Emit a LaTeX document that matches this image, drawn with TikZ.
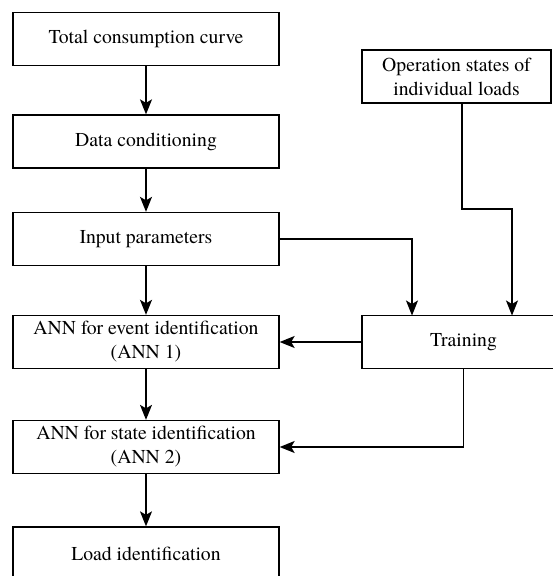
\documentclass[tikz,border=0pt]{standalone}
\usepackage{fontspec}
\setmainfont{texgyretermes}[Extension=.otf, UprightFont=*-regular, BoldFont=*-bold, ItalicFont=*-italic, BoldItalicFont=*-bolditalic]
\usetikzlibrary{arrows.meta}
\begin{document}
\begin{tikzpicture}[x=1pt,y=-1pt,
  box/.style={draw, line width=1.3pt, minimum height=53pt, inner sep=0pt, align=center,
    font=\fontsize{19.7}{24}\selectfont},
  lbox/.style={box, minimum width=266pt},
  arr/.style={line width=1.3pt, -{Stealth[length=15pt,width=12pt,inset=3.5pt]}}]
\useasboundingbox (0,0) rectangle (552,576);
\node[lbox] (total) at (146,39) {Total consumption curve};
\node[lbox] (data) at (146,141.5) {Data conditioning};
\node[lbox] (input) at (146,239) {Input parameters};
\node[lbox] (ann1) at (146,342) {ANN for event identification\\(ANN 1)};
\node[lbox] (ann2) at (146,447) {ANN for state identification\\(ANN 2)};
\node[lbox] (load) at (146,553.5) {Load identification};
\node[box, minimum width=189pt] (op) at (456.5,76.5) {Operation states of\\individual loads};
\node[box, minimum width=203pt] (train) at (463.5,342) {Training};
\coordinate (o1) at (462,103);
\coordinate (o2) at (512,209);
\coordinate (t1) at (412,315.5);
\coordinate (t2) at (512,315.5);
\draw[arr] (total) -- (data);
\draw[arr] (data) -- (input);
\draw[arr] (input) -- (ann1);
\draw[arr] (ann1) -- (ann2);
\draw[arr] (ann2) -- (load);
\draw[arr] (input.east) -| (t1);
\draw[arr] (o1) |- (o2) -- (t2);
\draw[arr] (train.west) -- (ann1.east);
\draw[arr] (train.south) |- (ann2.east);
\end{tikzpicture}
\end{document}
